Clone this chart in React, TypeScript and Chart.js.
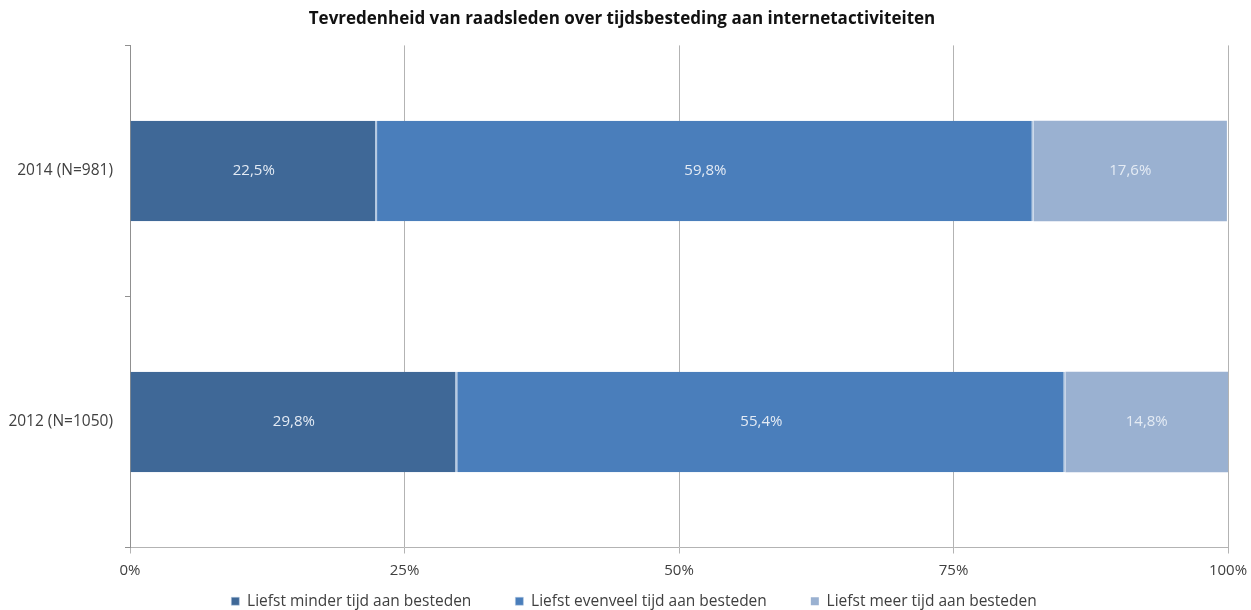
import React, { useEffect, useRef } from "react";
import { Chart, registerables } from "chart.js";

Chart.register(...registerables);

const categories = ["2014 (N=981)", "2012 (N=1050)"];
const seriesNames = [
  "Liefst minder tijd aan besteden",
  "Liefst evenveel tijd aan besteden",
  "Liefst meer tijd aan besteden",
];
const minderValues = [22.5, 29.8];
const evenveelValues = [59.8, 55.4];
const meerValues = [17.6, 14.8];
const xTickValues = [0, 25, 50, 75, 100];
const titleText = "Tevredenheid van raadsleden over tijdsbesteding aan internetactiviteiten";

const FONT = "'Open Sans', sans-serif";

const labelPlugin = {
  id: "barLabels",
  afterLayout(chart: any) {
    const lg = chart.legend;
    if (lg) {
      lg.top -= 36;
      lg.bottom -= 36;
      lg.left += 20;
      lg.right += 20;
    }
    const tb = chart.titleBlock;
    if (tb) {
      tb.left += 8;
      tb.right += 8;
    }
  },
  afterDatasetsDraw(chart: any) {
    const ctx = chart.ctx;
    ctx.save();
    ctx.font = `15px ${FONT}`;
    ctx.fillStyle = "#e4ebf4";
    ctx.textAlign = "center";
    ctx.textBaseline = "middle";
    chart.data.datasets.forEach((ds: any, di: number) => {
      const meta = chart.getDatasetMeta(di);
      meta.data.forEach((el: any, i: number) => {
        const v = ds.data[i];
        const cx = (el.x + el.base) / 2;
        ctx.fillText(v.toFixed(1).replace(".", ",") + "%", cx, el.y);
      });
    });
    ctx.restore();
  },
};

export default function App() {
  const ref = useRef<HTMLCanvasElement | null>(null);
  useEffect(() => {
    document.body.style.margin = "0";
    const ctx = ref.current!;
    const colors = ["#3f6897", "#4a7ebb", "#9ab1d1"];
    const values = [minderValues, evenveelValues, meerValues];
    const chart = new Chart(ctx, {
      type: "bar",
      data: {
        labels: categories,
        datasets: seriesNames.map((name, i) => ({
          label: name,
          data: values[i],
          backgroundColor: colors[i],
          borderColor: "#b7cbe3",
          borderWidth: { left: 0, right: i < 2 ? 2 : 0, top: 0, bottom: 0 },
          borderSkipped: false,
          barPercentage: 0.4,
          categoryPercentage: 1,
        })),
      },
      options: {
        indexAxis: "y",
        animation: false,
        responsive: false,
        maintainAspectRatio: false,
        layout: { padding: { left: 0, right: 23, top: 0, bottom: -45 } },
        scales: {
          x: {
            stacked: true,
            min: 0,
            max: 100,
            afterBuildTicks(scale: any) {
              scale.ticks = xTickValues.map((v) => ({ value: v }));
            },
            afterFit(scale: any) {
              scale.height = 38;
              scale.paddingRight = 0;
              scale.paddingLeft = 0;
            },
            ticks: {
              callback: (v: any) => v + "%",
              color: "#404040",
              font: { family: FONT, size: 15 },
              padding: 8,
              maxRotation: 0,
            },
            grid: {
              color: "#b3b3b3",
              lineWidth: 1,
              tickLength: 6,
            },
            border: { color: "#b3b3b3" },
          },
          y: {
            stacked: true,
            afterFit(scale: any) {
              scale.width = 130;
            },
            ticks: {
              color: "#404040",
              font: { family: FONT, size: 15.5 },
              padding: 12,
            },
            grid: {
              drawOnChartArea: false,
              offset: true,
              color: "#909090",
              tickLength: 5,
            },
            border: { color: "#909090" },
          },
        },
        plugins: {
          title: {
            display: true,
            text: titleText,
            color: "#111111",
            font: { family: FONT, size: 17, weight: "bold" },
            padding: { top: 9, bottom: 16 },
          },
          legend: {
            position: "bottom",
            labels: {
              boxWidth: 8,
              boxHeight: 8,
              padding: 44,
              color: "#404040",
              font: { family: FONT, size: 15.5 },
            },
          },
          tooltip: { enabled: false },
        },
      },
      plugins: [labelPlugin],
    } as any);
    return () => chart.destroy();
  }, []);
  return <canvas ref={ref} width={1251} height={610} style={{ display: "block" }} />;
}
